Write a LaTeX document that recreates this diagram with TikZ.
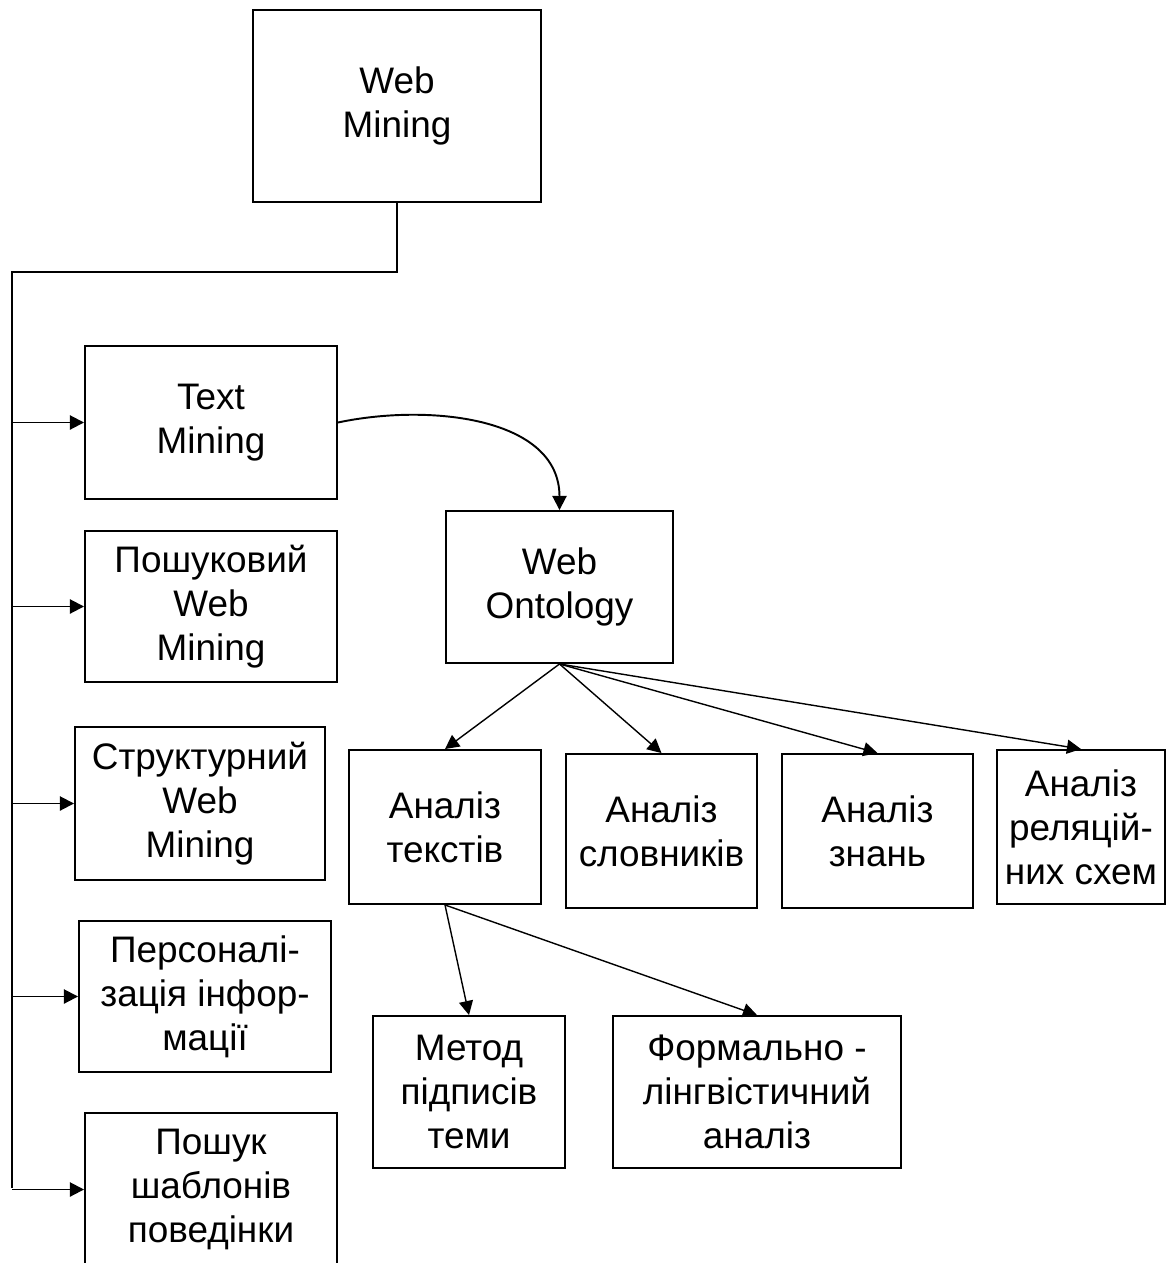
\documentclass[tikz,border=0pt]{standalone}
\usepackage{fontspec}
\setmainfont{Liberation Sans}
\usetikzlibrary{arrows.meta,calc,positioning}

\begin{document}
\begin{tikzpicture}[font=\fontsize{21pt}{25pt}\selectfont, >={Triangle[length=8pt,width=8pt]}, line width=1.1pt,
  blok/.style={draw, line width=1.1pt, align=center, inner sep=0pt}]
\clip (0,0) rectangle (23.5,-25.26);
% ramka Web Mining
\node[blok, minimum width=5.76cm, minimum height=3.84cm] (wm) at (7.94,-2.12) {Web\\Mining};
% liva kolonka
\node[blok, minimum width=5.04cm, minimum height=3.06cm] (tm)   at (4.22,-8.45)  {Text\\Mining};
\node[blok, minimum width=5.04cm, minimum height=3.02cm] (pwm)  at (4.22,-12.13) {Пошуковий\\Web\\Mining};
\node[blok, minimum width=5.00cm, minimum height=3.06cm] (swm)  at (4.00,-16.07) {Структурний\\Web\\Mining};
\node[blok, minimum width=5.04cm, minimum height=3.02cm] (pers) at (4.10,-19.93) {Персоналі-\\зація інфор-\\мації};
\node[blok, minimum width=5.04cm, minimum height=3.06cm] (psh)  at (4.22,-23.79) {Пошук\\шаблонів\\поведінки};
% Web Ontology i yiyi gilky
\node[blok, minimum width=4.54cm, minimum height=3.04cm] (wo) at (11.19,-11.74) {Web\\Ontology};
\node[blok, minimum width=3.84cm, minimum height=3.08cm] (at) at (8.90,-16.54)  {Аналіз\\текстів};
\node[blok, minimum width=3.82cm, minimum height=3.08cm] (as) at (13.23,-16.62) {Аналіз\\словників};
\node[blok, minimum width=3.82cm, minimum height=3.08cm] (az) at (17.55,-16.62) {Аналіз\\знань};
\node[blok, minimum width=3.36cm, minimum height=3.08cm] (ar) at (21.62,-16.54) {Аналіз\\реляцій-\\них схем};
\node[blok, minimum width=3.84cm, minimum height=3.04cm] (mp) at (9.38,-21.84)  {Метод\\підписів\\теми};
\node[blok, minimum width=5.76cm, minimum height=3.04cm] (fl) at (15.14,-21.84) {Формально -\\лінгвістичний\\аналіз};
% stovbur
\coordinate (trunk) at (0.24,-5.44);
\coordinate (trunkend) at (0.24,-23.76);
\draw (wm.south) |- (trunk) -- (trunkend);
\foreach \b in {tm,pwm,swm,pers,psh}
  \draw[->] (\b.west -| trunk) -- (\b.west);
\draw[->] (tm.east) to[out=12, in=90] (wo.north);
\foreach \b in {at,as,az,ar}
  \draw[->, line width=0.8pt] (wo.south) -- (\b.north);
\draw[->, line width=0.8pt] (at.south) -- (mp.north);
\draw[->, line width=0.8pt] (at.south) -- (fl.north);
\end{tikzpicture}
\end{document}
